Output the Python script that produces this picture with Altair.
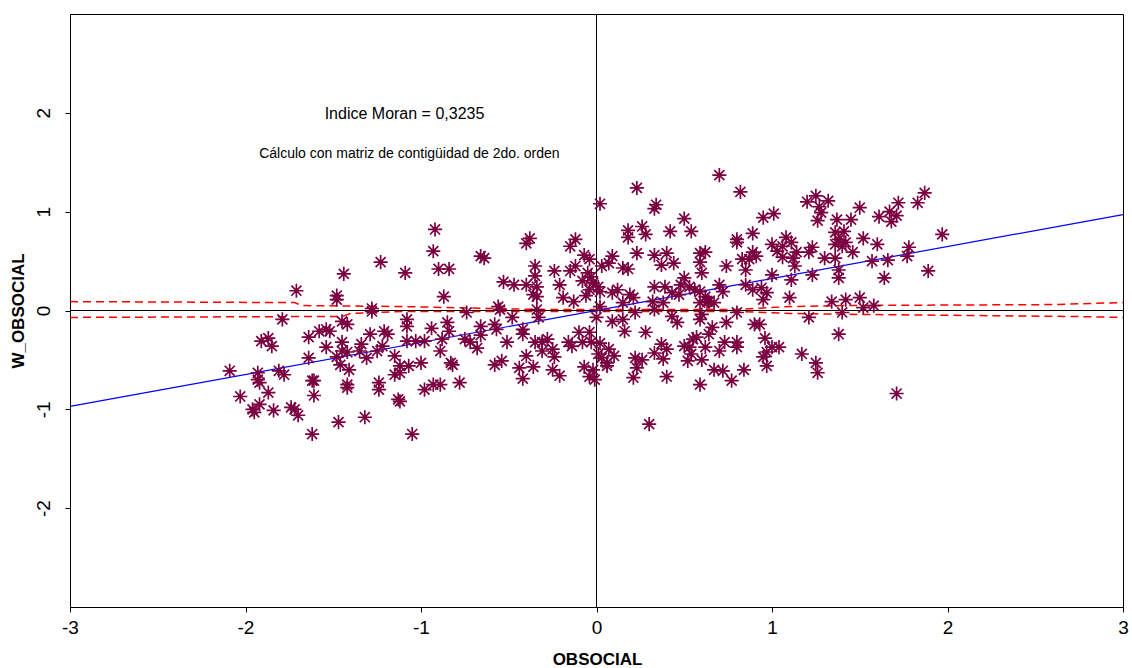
import altair as alt
import pandas as pd

# ---- data ----
obs_x = [
 -1.71,-1.48,-1.44,-1.23,-1.28,
 -1.09,-0.92,-0.93,-0.90,-0.84,-0.66,-0.64,-0.87,-0.40,-0.38,-0.15,-0.12,-0.07,-0.35,-0.35,
 -0.24,-0.15,-0.12,-0.05,-0.53,-0.47,-0.40,-0.34,-0.36,-0.34,-0.21,-0.19,-0.13,-0.56,
 0.02,0.23,0.70,0.82,0.34,0.33,0.18,0.18,0.26,0.28,0.42,0.50,0.54,0.95,1.01,0.80,0.80,0.89,
 0.23,0.33,0.40,0.37,0.44,0.09,0.07,0.03,0.15,0.18,0.59,0.62,0.59,0.60,0.74,0.89,0.91,0.87,
 0.83,0.85,1.00,1.03,1.00,-0.04,-0.03,-0.04,0.01,0.02,0.09,0.12,0.19,0.21,0.15,0.33,0.39,
 0.32,0.38,0.50,0.48,0.53,0.43,0.47,0.56,0.59,0.62,0.64,0.67,0.70,0.72,0.85,0.89,0.94,0.97,
 0.95,0.02,
 1.20,1.25,1.32,1.27,1.28,1.26,1.37,1.45,1.50,1.61,1.67,1.71,1.72,1.68,1.83,1.87,1.97,1.36,
 1.41,1.38,1.42,1.36,1.40,1.46,1.52,1.60,1.08,1.11,1.06,1.23,1.21,1.30,1.36,1.14,1.12,1.06,
 1.13,1.38,1.38,1.57,1.66,1.78,1.77,1.89,1.64,1.23,1.11,1.10,1.34,1.42,1.50,1.58,1.52,
 1.21,1.40,1.38,1.17,1.25,1.26,1.71,1.04,
 0.00,0.09,0.15,0.16,0.22,0.28,0.33,0.43,0.46,0.59,0.63,0.59,0.60,0.66,0.64,0.74,0.80,0.90,
 0.93,0.96,1.00,0.97,0.95,0.97,0.53,0.50,0.57,0.55,0.62,0.73,0.80,0.80,0.70,0.54,0.60,0.52,
 0.67,0.72,0.84,0.77,0.59,0.37,0.40,0.33,0.38,0.22,0.26,0.23,0.21,0.40,0.30,0.02,0.01,0.03,
 0.06,0.06,0.07,0.10,-0.02,-0.01,-0.04,-0.03,
 -1.08,-1.08,-0.94,-0.85,-0.84,-1.08,-1.03,-0.98,-0.89,-0.88,-0.75,-0.72,-0.68,-0.66,-0.66,
 -0.58,-0.57,-0.55,-0.74,-0.51,-0.48,-0.42,-0.42,-0.34,-0.33,-0.35,-0.31,-0.28,-0.31,-0.25,
 -0.24,-0.16,-0.14,-0.10,-0.08,-0.40,-0.44,-0.36,-0.42,-0.25,-0.21,-0.58,-0.54,-0.83,-0.82,
 -1.00,-1.07,-1.12,-0.93,-0.89,-0.98,-0.78,-1.12,-1.05,-0.07,-0.04,
 -2.09,-1.79,-1.91,-1.87,-1.85,-1.93,-1.93,-1.92,-1.81,-1.78,-2.03,-1.87,-1.96,-1.95,-1.92,
 -1.84,-1.74,-1.72,-1.70,-1.62,-1.64,-1.58,-1.54,-1.52,-1.54,-1.64,-1.62,-1.61,-1.61,-1.45,
 -1.42,-1.45,-1.45,-1.42,-1.48,-1.46,-1.41,-1.42,-1.42,-1.47,-1.34,-1.35,-1.31,-1.29,-1.21,
 -1.19,-1.25,-1.22,-1.24,-1.24,-1.32,-1.13,-1.15,-1.12,-1.15,-1.28,-1.48,
 -0.08,-0.02,-0.06,
]
w_obs_y = [
 0.20,0.15,0.37,0.49,0.02,
 0.38,0.82,0.60,0.42,0.42,0.55,0.53,0.14,0.68,0.73,0.65,0.72,0.56,0.45,0.35,
 0.40,0.40,0.45,0.38,0.29,0.26,0.26,0.24,0.16,0.14,0.26,0.13,0.09,0.04,
 1.08,1.24,1.37,1.20,1.07,1.03,0.81,0.74,0.85,0.77,0.80,0.93,0.80,0.94,0.98,0.72,0.69,0.78,
 0.58,0.56,0.58,0.46,0.48,0.55,0.48,0.45,0.43,0.42,0.58,0.59,0.49,0.38,0.45,0.59,0.55,0.52,
 0.52,0.41,0.67,0.60,0.36,0.52,0.34,0.21,0.24,0.19,0.18,0.21,0.16,0.13,0.08,0.24,0.24,
 0.09,0.08,0.33,0.26,0.24,0.18,0.16,0.21,0.19,0.14,0.09,0.08,0.26,0.19,0.26,0.21,0.23,0.18,
 0.11,0.04,
 1.10,1.16,1.11,1.05,0.99,0.91,0.92,0.92,1.04,0.95,1.00,0.96,1.09,0.90,1.09,1.19,0.77,0.79,
 0.80,0.72,0.69,0.67,0.65,0.59,0.73,0.67,0.74,0.69,0.65,0.64,0.59,0.53,0.53,0.59,0.53,0.54,
 0.45,0.41,0.33,0.50,0.51,0.64,0.55,0.40,0.33,0.36,0.31,0.13,0.09,0.11,0.13,0.05,0.03,
 -0.07,-0.02,-0.24,-0.44,-0.53,-0.63,-0.84,-0.37,
 -0.07,-0.11,-0.09,-0.21,-0.02,-0.22,0.01,-0.06,-0.12,0.08,0.09,-0.09,-0.04,-0.17,-0.24,-0.12,-0.02,-0.14,
 -0.14,-0.28,-0.37,-0.42,-0.47,-0.56,-0.37,-0.36,-0.27,-0.29,-0.37,-0.32,-0.32,-0.37,-0.41,-0.44,-0.50,-0.51,
 -0.60,-0.61,-0.60,-0.71,-0.75,-0.34,-0.39,-0.43,-0.49,-0.48,-0.50,-0.58,-0.68,-0.67,-1.15,-0.33,-0.44,-0.48,
 -0.53,-0.56,-0.39,-0.46,-0.60,-0.70,-0.22,-0.32,
 -0.09,-0.16,-0.18,-0.12,-0.21,-0.31,-0.31,-0.31,-0.41,-0.29,-0.29,-0.32,-0.38,-0.16,-0.25,
 -0.14,-0.19,0.01,-0.02,-0.32,-0.07,-0.19,-0.24,0.01,-0.07,-0.32,-0.32,-0.29,-0.41,-0.39,
 -0.47,-0.32,-0.36,-0.22,-0.32,-0.46,-0.58,-0.57,-0.69,-0.60,-0.66,-0.55,-0.51,-0.53,-0.55,
 -0.53,-0.56,-0.56,-0.75,-0.75,-0.80,-0.73,-0.92,-1.25,-0.57,-0.67,
 -0.61,-0.09,-0.31,-0.28,-0.36,-0.63,-0.70,-0.73,-0.61,-0.65,-0.87,-0.83,-1.00,-1.03,-0.95,
 -1.01,-0.98,-1.00,-1.06,-1.25,-0.27,-0.21,-0.19,-0.21,-0.37,-0.48,-0.71,-0.71,-0.86,-0.11,
 -0.14,-0.32,-0.41,-0.42,-0.47,-0.55,-0.60,-0.75,-0.78,-1.13,-0.34,-0.41,-0.48,-0.24,-0.21,
 -0.24,-0.41,-0.36,-0.73,-0.80,-1.08,-0.90,-0.65,-0.63,-0.46,-0.01,0.11,
 0.30,0.28,0.15,
]

moran_slope = 0.3235
fit_x = [-3.0, 3.0]

band_up_x = [-3.0, -1.72, -1.68, -1.1, -0.6, -0.3, 0.8, 1.1, 1.4, 2.6, 3.0]
band_up_y = [0.09, 0.08, 0.05, 0.04, 0.02, 0.01, 0.01, 0.04, 0.05, 0.06, 0.08]
band_lo_x = [-3.0, -1.45, -1.4, -1.1, 0.8, 1.1, 1.5, 2.7, 3.0]
band_lo_y = [-0.07, -0.06, -0.03, -0.01, -0.01, -0.03, -0.04, -0.06, -0.07]

notes = ["Indice Moran = 0,3235", "Cálculo con matriz de contigüidad de 2do. orden"]
note_x = [-1.094, -1.066]
note_y = [1.99, 1.58]
note_size = [16, 14]

# ---- build tables ----
n = min(len(obs_x), len(w_obs_y))
pts = pd.DataFrame({"x": obs_x[:n], "y": w_obs_y[:n]})
fit = pd.DataFrame({"x": fit_x, "y": [moran_slope * v for v in fit_x]})
bands = pd.concat([
    pd.DataFrame({"x": band_up_x, "y": band_up_y, "b": "up"}),
    pd.DataFrame({"x": band_lo_x, "y": band_lo_y, "b": "lo"}),
])
txt = pd.DataFrame({"t": notes, "x": note_x, "y": note_y, "s": note_size})

FONT = "Liberation Sans, Arial, sans-serif"

xs = alt.Scale(domain=[-3, 3], nice=False, zero=False)
ys = alt.Scale(domain=[-3, 3], nice=False, zero=False)

x_axis = alt.Axis(values=[-3, -2, -1, 0, 1, 2, 3], grid=False, title="OBSOCIAL",
                  labelExpr="'' + datum.value",
                  labelFont=FONT, labelFontSize=19, labelColor="black",
                  labelPadding=6, tickSize=5, tickColor="black", domainColor="black",
                  titleFont=FONT, titleFontSize=17, titleFontWeight="bold",
                  titleX=527, titleY=52, titleBaseline="middle", titleAlign="center",
                  titleColor="black", labelFlush=False)
y_axis = alt.Axis(values=[-2, -1, 0, 1, 2], grid=False, title="W_OBSOCIAL",
                  labelExpr="'' + datum.value",
                  labelFont=FONT, labelFontSize=19, labelColor="black",
                  labelAngle=270, labelAlign="center", labelBaseline="bottom",
                  labelPadding=12, tickSize=5, tickColor="black", domainColor="black",
                  titleFont=FONT, titleFontSize=17, titleFontWeight="bold",
                  titleX=-52, titleY=296.5, titleAngle=270, titleAlign="center",
                  titleBaseline="middle", titleColor="black")

base_axes = alt.Chart(pd.DataFrame({"x": [0], "y": [0]})).mark_point(opacity=0).encode(
    x=alt.X("x:Q", scale=xs, axis=x_axis),
    y=alt.Y("y:Q", scale=ys, axis=y_axis),
)

hline = alt.Chart(pd.DataFrame({"y": [0]})).mark_rule(color="black", strokeWidth=1).encode(
    y=alt.Y("y:Q", scale=ys))
vline = alt.Chart(pd.DataFrame({"x": [0]})).mark_rule(color="black", strokeWidth=1).encode(
    x=alt.X("x:Q", scale=xs))

band_lines = alt.Chart(bands).mark_line(color="#FF0000", strokeWidth=1.5,
                                        strokeDash=[8, 5]).encode(
    x=alt.X("x:Q", scale=xs), y=alt.Y("y:Q", scale=ys), detail="b:N")

fit_line = alt.Chart(fit).mark_line(color="#0000FF", strokeWidth=1.2).encode(
    x=alt.X("x:Q", scale=xs), y=alt.Y("y:Q", scale=ys))

ASTER = "M-1,0L1,0M0,-1L0,1M-0.71,-0.71L0.71,0.71M-0.71,0.71L0.71,-0.71"
points = alt.Chart(pts).mark_point(shape=ASTER, filled=False, color="#7A0040",
                                   strokeWidth=1.7, size=200, opacity=1).encode(
    x=alt.X("x:Q", scale=xs), y=alt.Y("y:Q", scale=ys))
dots = alt.Chart(pts).mark_circle(color="#7A0040", size=16, opacity=1).encode(
    x=alt.X("x:Q", scale=xs), y=alt.Y("y:Q", scale=ys))

notes_layer = alt.Chart(txt).mark_text(font=FONT, color="black", align="center",
                                       baseline="middle").encode(
    x=alt.X("x:Q", scale=xs), y=alt.Y("y:Q", scale=ys), text="t:N",
    size=alt.Size("s:Q", scale=None, legend=None))

chart = alt.layer(base_axes, band_lines, hline, vline, fit_line, points, dots, notes_layer).properties(
    width=1053, height=593,
    autosize=alt.AutoSizeParams(type="none"),
    padding={"left": 70, "top": 14, "right": 9, "bottom": 61},
    background="white",
).configure_view(stroke="black", strokeWidth=1)

chart.save("out.html", embed_options={"renderer": "svg", "actions": False})
